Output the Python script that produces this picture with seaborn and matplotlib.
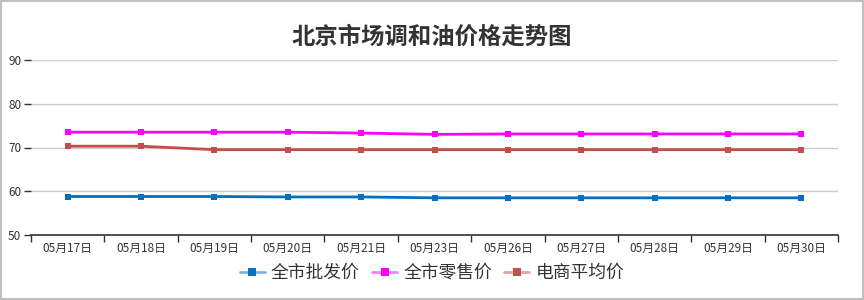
import matplotlib
matplotlib.use("Agg")
import matplotlib.pyplot as plt
import seaborn as sns
import pandas as pd
import numpy as np
from matplotlib.lines import Line2D
from matplotlib.patches import Rectangle

dates = ["05月17日", "05月18日", "05月19日", "05月20日", "05月21日", "05月23日",
         "05月26日", "05月27日", "05月28日", "05月29日", "05月30日"]
wholesale = [58.8, 58.8, 58.8, 58.7, 58.7, 58.5, 58.5, 58.5, 58.5, 58.5, 58.5]
retail = [73.5, 73.5, 73.5, 73.5, 73.3, 73.0, 73.1, 73.1, 73.1, 73.1, 73.1]
ecommerce = [70.3, 70.3, 69.5, 69.5, 69.5, 69.5, 69.5, 69.5, 69.5, 69.5, 69.5]
series_names = ["全市批发价", "全市零售价", "电商平均价"]
colors = ["#0070C0", "#FF00FF", "#C0504D"]
light = ["#7FB2DF", "#FF80FF", "#DFA8A6"]

sns.set_theme(style="white")
plt.rcParams['font.family'] = ['Noto Sans CJK SC', 'DejaVu Sans']

df = pd.DataFrame({
    "idx": list(range(len(dates))) * 3,
    "value": wholesale + retail + ecommerce,
    "series": sum([[n] * len(dates) for n in series_names], []),
})

fig = plt.figure(figsize=(8.64, 3.0), dpi=100)
ax = fig.add_axes([31/864, 1-235/300, (838-31)/864, (235-60)/300])

sns.lineplot(data=df, x="idx", y="value", hue="series", palette=dict(zip(series_names, colors)),
             marker="s", markersize=5, markeredgewidth=0, linewidth=2, ax=ax, legend=False, sort=False)

ax.set_xlim(-0.5, len(dates) - 0.5)
ax.set_ylim(50, 90)
ax.set_yticks([50, 60, 70, 80, 90])
ax.set_xticks(range(len(dates)))
ax.set_xticklabels(dates)
ax.set_xticks(np.arange(-0.5, len(dates), 1.0), minor=True)
ax.tick_params(axis="x", which="major", length=0, labelsize=8.5, colors="#333333", pad=5)
ax.tick_params(axis="x", which="minor", length=5, width=1, color="#333333", bottom=True)
ax.tick_params(axis="y", which="major", length=5, width=1, color="#333333", left=True,
               labelsize=8.5, labelcolor="#333333", pad=2)
ax.yaxis.grid(True, color="#CCCCCC", linewidth=1)
ax.set_axisbelow(True)
for s in ["top", "right", "left"]:
    ax.spines[s].set_visible(False)
ax.spines["bottom"].set_color("#333333")
ax.spines["bottom"].set_linewidth(1.2)
ax.set_xlabel("")
ax.set_ylabel("")

fig.text(0.5, 1-37/300, "北京市场调和油价格走势图", ha="center", va="center",
         fontsize=16.8, fontweight="bold", color="#333333")

handles = [Line2D([0], [0], color=l, linewidth=2, marker="s", markersize=6,
                  markerfacecolor=c, markeredgewidth=0) for c, l in zip(colors, light)]
fig.legend(handles, series_names, loc="center", bbox_to_anchor=(0.5, 1-273/300), ncol=3,
           frameon=False, fontsize=12.8, handlelength=1.4, handletextpad=0.35, columnspacing=0.7,
           labelcolor="#333333")

fig.add_artist(Rectangle((0, 0), 1, 1, transform=fig.transFigure, fill=False,
                         edgecolor="#C0C0C0", linewidth=3))

fig.savefig("out.png", dpi=100)
